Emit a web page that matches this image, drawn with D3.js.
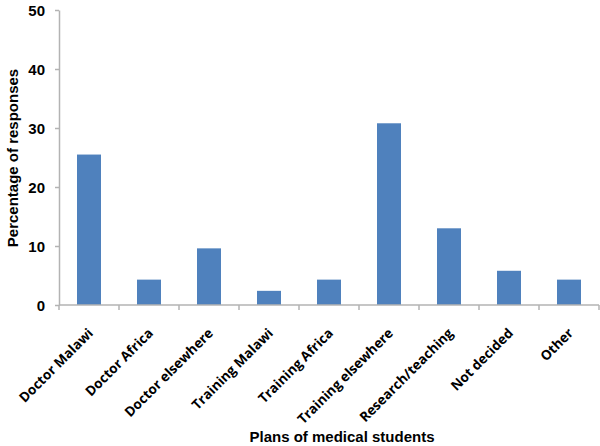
<!DOCTYPE html>
<meta charset="utf-8">
<style>
body { margin: 0; background: #fff; }
.axis path, .axis line { stroke: #b3b3b3; stroke-width: 1.5px; }
.ylab { font: bold 15px "Liberation Sans", Arial, sans-serif; fill: #000; }
.xlab { font: bold 13.5px "Open Sans", sans-serif; fill: #000; }
.title { font: bold 15px "Liberation Sans", Arial, sans-serif; fill: #000; }
</style>
<svg width="600" height="446"></svg>
<script src="https://d3js.org/d3.v7.min.js"></script>
<script>
var categories = ["Doctor Malawi", "Doctor Africa", "Doctor elsewhere", "Training Malawi",
  "Training Africa", "Training elsewhere", "Research/teaching", "Not decided", "Other"];
var values = [25.5, 4.3, 9.6, 2.4, 4.3, 30.8, 13.0, 5.8, 4.3];
var yTicks = [0, 10, 20, 30, 40, 50];

var svg = d3.select("svg"),
    mLeft = 59, mRight = 599, mTop = 10, mBottom = 305;

var x = d3.scaleBand()
    .domain(categories)
    .range([mLeft, mRight])
    .paddingInner(0.6)
    .paddingOuter(0.3);

var y = d3.scaleLinear()
    .domain([0, 50])
    .range([mBottom, mTop]);

// bars
svg.selectAll("rect")
  .data(values)
  .enter().append("rect")
    .attr("x", function(d, i) { return x(categories[i]); })
    .attr("y", function(d) { return y(d); })
    .attr("width", x.bandwidth())
    .attr("height", function(d) { return mBottom - y(d); })
    .attr("fill", "#4f81bd");

// y axis
var gy = svg.append("g")
    .attr("class", "axis")
    .attr("transform", "translate(" + mLeft + ",0)")
    .call(d3.axisLeft(y).tickValues(yTicks).tickSize(4).tickSizeOuter(0).tickPadding(10));
gy.selectAll("text").attr("class", "ylab").attr("dy", "0.36em");

// x axis: ticks at band boundaries
var gx = svg.append("g")
    .attr("class", "axis")
    .attr("transform", "translate(0," + mBottom + ")");
gx.append("line").attr("x1", mLeft).attr("x2", mRight);
gx.selectAll(".tk")
  .data(d3.range(categories.length + 1))
  .enter().append("line")
    .attr("class", "tk")
    .attr("x1", function(i) { return mLeft + i * x.step(); })
    .attr("x2", function(i) { return mLeft + i * x.step(); })
    .attr("y1", 0).attr("y2", 5);

gx.selectAll(".xlab")
  .data(categories)
  .enter().append("text")
    .attr("class", "xlab")
    .attr("text-anchor", "end")
    .attr("transform", function(d) {
      return "translate(" + (x(d) + x.bandwidth() / 2 + 5) + ",29) rotate(-45)";
    })
    .text(function(d) { return d; });

// axis titles
svg.append("text")
    .attr("class", "title")
    .attr("text-anchor", "middle")
    .attr("transform", "translate(18,158) rotate(-90)")
    .text("Percentage of responses");

svg.append("text")
    .attr("class", "title")
    .attr("text-anchor", "middle")
    .attr("x", 342).attr("y", 442)
    .text("Plans of medical students");
</script>
